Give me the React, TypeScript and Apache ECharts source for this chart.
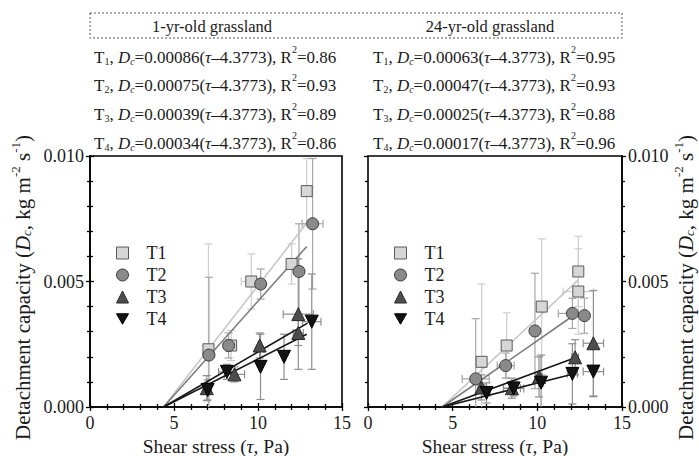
import React, { useEffect, useRef } from "react";
import * as echarts from "echarts";

// ---------- data ----------
const GROUPS = ["T1", "T2", "T3", "T4"];
const TAU_C = 4.3773;
const X_MIN = 0;
const X_MAX = 15;
const X_INTERVAL = 5;
const Y_MIN = 0;
const Y_MAX = 0.01;
const Y_INTERVAL = 0.005;

const PANEL_TITLES = ["1-yr-old grassland", "24-yr-old grassland"];

// 1-yr-old grassland
const A_T1_X = [7.05, 8.4, 9.6, 12.0, 12.9];
const A_T1_Y = [0.0023, 0.00245, 0.005, 0.0057, 0.0086];
const A_T1_XERR = [0.15, 0.3, 0.6, 0.2, 0.15];
const A_T1_YERR = [0.0042, 0.0006, 0.0011, 0.0008, 0.0013];

const A_T2_X = [7.08, 8.25, 10.16, 12.44, 13.25];
const A_T2_Y = [0.00207, 0.00245, 0.0049, 0.0054, 0.0073];
const A_T2_XERR = [0.15, 0.3, 0.1, 0.1, 0.62];
const A_T2_YERR = [0.0031, 0.0005, 0.0006, 0.0019, 0.0026];

const A_T3_X = [6.95, 8.6, 10.1, 12.4, 12.4];
const A_T3_Y = [0.00075, 0.0013, 0.00245, 0.0037, 0.00295];
const A_T3_XERR = [0.2, 0.6, 0.1, 0.9, 0.3];
const A_T3_YERR = [0.0005, 0.0003, 0.0005, 0.0022, 0.0005];

const A_T4_X = [7.0, 8.15, 10.15, 11.55, 13.2];
const A_T4_Y = [0.00068, 0.0014, 0.0016, 0.002, 0.0034];
const A_T4_XERR = [0.2, 0.5, 0.1, 0.1, 0.55];
const A_T4_YERR = [0.0004, 0.0003, 0.0013, 0.0009, 0.0019];

const A_SLOPE = [0.00086, 0.00075, 0.00039, 0.00034];
const A_R2 = ["0.86", "0.93", "0.89", "0.86"];
const A_FIT_END = [12.9, 12.9, 12.95, 12.9];

// 24-yr-old grassland
const B_T1_X = [6.71, 8.19, 10.26, 12.42, 12.42];
const B_T1_Y = [0.0018, 0.00245, 0.004, 0.0054, 0.0046];
const B_T1_XERR = [0.15, 0.2, 0.15, 0.1, 0.9];
const B_T1_YERR = [0.0031, 0.0013, 0.0027, 0.0014, 0.0017];

const B_T2_X = [6.36, 8.13, 9.86, 12.07, 12.78];
const B_T2_Y = [0.00112, 0.00165, 0.00303, 0.00373, 0.00364];
const B_T2_XERR = [0.8, 0.5, 0.1, 0.83, 0.2];
const B_T2_YERR = [0.0024, 0.0005, 0.0023, 0.0006, 0.0007];

const B_T3_X = [6.7, 8.5, 10.1, 12.23, 13.31];
const B_T3_Y = [0.00078, 0.00075, 0.0012, 0.00198, 0.00254];
const B_T3_XERR = [0.2, 0.5, 0.2, 0.2, 0.6];
const B_T3_YERR = [0.0005, 0.0004, 0.0008, 0.0007, 0.0021];

const B_T4_X = [7.0, 8.6, 10.22, 12.07, 13.31];
const B_T4_Y = [0.00056, 0.00074, 0.00097, 0.00132, 0.00141];
const B_T4_XERR = [0.2, 0.6, 0.15, 0.3, 0.6];
const B_T4_YERR = [0.0004, 0.0003, 0.0011, 0.0012, 0.001];

const B_SLOPE = [0.00063, 0.00047, 0.00025, 0.00017];
const B_R2 = ["0.95", "0.93", "0.88", "0.96"];
const B_FIT_END = [12.42, 12.07, 12.23, 12.07];

// ---------- styles ----------
const FAMILY = "Liberation Serif, Times New Roman, serif";
const INK = "#1a1a1a";
const MARK_FILL = ["#d6d6d6", "#8a8a8a", "#4e4e4e", "#131313"];
const MARK_BORDER = ["#5a5a5a", "#3c3c3c", "#262626", "#000000"];
const LINE_COLOR = ["#c6c6c6", "#7c7c7c", "#151515", "#151515"];
const ERR_COLOR = ["#cdcdcd", "#a6a6a6", "#8e8e8e", "#8e8e8e"];
const SYMBOLS = ["rect", "circle", "triangle", "path://M0,0 L10,0 L5,8.7 Z"];
const SYMBOL_SIZE = [11, 12, 13, 13];

const PANELS = [
  {
    xs: [A_T1_X, A_T2_X, A_T3_X, A_T4_X],
    ys: [A_T1_Y, A_T2_Y, A_T3_Y, A_T4_Y],
    xe: [A_T1_XERR, A_T2_XERR, A_T3_XERR, A_T4_XERR],
    ye: [A_T1_YERR, A_T2_YERR, A_T3_YERR, A_T4_YERR],
    slope: A_SLOPE,
    r2: A_R2,
    fitEnd: A_FIT_END,
  },
  {
    xs: [B_T1_X, B_T2_X, B_T3_X, B_T4_X],
    ys: [B_T1_Y, B_T2_Y, B_T3_Y, B_T4_Y],
    xe: [B_T1_XERR, B_T2_XERR, B_T3_XERR, B_T4_XERR],
    ye: [B_T1_YERR, B_T2_YERR, B_T3_YERR, B_T4_YERR],
    slope: B_SLOPE,
    r2: B_R2,
    fitEnd: B_FIT_END,
  },
];

// layout
const GRID_LEFT = [90, 368];
const GRID_WIDTH = [252, 254];
const GRID_TOP = 156;
const GRID_HEIGHT = 251;
const EQ_X = [94, 373];
const EQ_Y = [55, 83, 112, 141];
const HEADER_X = [212, 490];
const HEADER_Y = 26;
const EQ_SIZE = 17;

// rich styles for axis names (ECharts label style)
function axisRich(size: number, lhFactor: number) {
  const lh = Math.round(size * lhFactor);
  const sub = Math.round(size * 0.6);
  const base = { fontFamily: FAMILY, color: INK };
  return {
    a: { ...base, fontSize: size, lineHeight: lh, verticalAlign: "bottom" },
    i: { ...base, fontSize: size, fontStyle: "italic", lineHeight: lh, verticalAlign: "bottom" },
    sb: { ...base, fontSize: sub, lineHeight: sub, verticalAlign: "bottom" },
    sbi: { ...base, fontSize: sub, fontStyle: "italic", lineHeight: sub, verticalAlign: "bottom" },
    sp: { ...base, fontSize: sub, lineHeight: sub, verticalAlign: "top" },
  };
}

// rich styles for graphic texts (zrender style, font shorthand)
function graphicRich(size: number) {
  const lh = Math.round(size * 1.3);
  const sub = Math.round(size * 0.6);
  return {
    a: { font: `${size}px ${FAMILY}`, fill: INK, lineHeight: lh, verticalAlign: "bottom" },
    i: { font: `italic ${size}px ${FAMILY}`, fill: INK, lineHeight: lh, verticalAlign: "bottom" },
    sb: { font: `${sub}px ${FAMILY}`, fill: INK, lineHeight: sub, verticalAlign: "bottom" },
    sbi: { font: `italic ${sub}px ${FAMILY}`, fill: INK, lineHeight: sub, verticalAlign: "bottom" },
    sp: { font: `${sub}px ${FAMILY}`, fill: INK, lineHeight: sub, verticalAlign: "top" },
  };
}

function errRender(color: string) {
  return (params: any, api: any) => {
    const x = api.value(0);
    const y = api.value(1);
    const xe = api.value(2);
    const ye = api.value(3);
    const cs = params.coordSys;
    const yTopLim = cs.y;
    const yBotLim = cs.y + cs.height;
    const c = api.coord([x, y]);
    const top = api.coord([x, y + ye])[1];
    const bot = api.coord([x, y - ye])[1];
    const lft = api.coord([x - xe, y])[0];
    const rgt = api.coord([x + xe, y])[0];
    const cap = 4;
    const children: any[] = [];
    const seg = (x1: number, y1: number, x2: number, y2: number) =>
      children.push({
        type: "line",
        shape: { x1, y1, x2, y2 },
        style: { stroke: color, lineWidth: 1.2, fill: null },
      });
    seg(c[0], Math.max(top, yTopLim), c[0], Math.min(bot, yBotLim));
    if (top >= yTopLim) seg(c[0] - cap, top, c[0] + cap, top);
    if (bot <= yBotLim) seg(c[0] - cap, bot, c[0] + cap, bot);
    if (xe > 0) {
      seg(lft, c[1], rgt, c[1]);
      seg(lft, c[1] - cap, lft, c[1] + cap);
      seg(rgt, c[1] - cap, rgt, c[1] + cap);
    }
    return { type: "group", children };
  };
}

function buildOption() {
  const axisName = "{a|Detachment capacity (}{i|D}{sbi|c}{a|, kg m}{sp|-2}{a| s}{sp|-1}{a|)}";
  const xName = "{a|Shear stress (}{i|τ}{a|, Pa)}";
  const tickLine = { color: "#000", width: 1.3 };

  const xAxis: any[] = [];
  const yAxis: any[] = [];
  for (let p = 0; p < 2; p++) {
    xAxis.push({
      gridIndex: p,
      type: "value",
      min: X_MIN,
      max: X_MAX,
      interval: X_INTERVAL,
      position: "bottom",
      axisLine: { show: true, onZero: false, lineStyle: { color: "#000", width: 1.6 } },
      axisTick: { show: true, inside: false, length: 4, lineStyle: tickLine },
      minorTick: { show: true, splitNumber: 5, length: 3, lineStyle: tickLine },
      axisLabel: { fontFamily: FAMILY, fontSize: 18, color: INK, margin: 7 },
      splitLine: { show: false },
      name: xName,
      nameLocation: "middle",
      nameGap: 24,
      nameTextStyle: { rich: axisRich(19.5, 1.0) },
    });
    xAxis.push({
      gridIndex: p,
      type: "value",
      min: X_MIN,
      max: X_MAX,
      interval: X_INTERVAL,
      position: "bottom",
      axisLine: { show: false },
      axisTick: { show: true, inside: true, length: 4, lineStyle: tickLine },
      minorTick: { show: true, splitNumber: 5, length: 3, lineStyle: tickLine },
      axisLabel: { show: false },
      splitLine: { show: false },
    });
    const pos = p === 0 ? "left" : "right";
    yAxis.push({
      gridIndex: p,
      type: "value",
      min: Y_MIN,
      max: Y_MAX,
      interval: Y_INTERVAL,
      position: pos,
      axisLine: { show: true, onZero: false, lineStyle: { color: "#000", width: 1.6 } },
      axisTick: { show: true, inside: false, length: 4, lineStyle: tickLine },
      minorTick: { show: true, splitNumber: 5, length: 3, lineStyle: tickLine },
      axisLabel: {
        fontFamily: FAMILY,
        fontSize: 18,
        color: INK,
        margin: 6,
        formatter: (v: number) => v.toFixed(3),
      },
      splitLine: { show: false },
      name: axisName,
      nameLocation: "middle",
      nameRotate: 90,
      nameGap: p === 0 ? 57 : 50,
      nameTextStyle: { rich: axisRich(21, 1.15), padding: [0, 12, 0, 0] },
    });
    yAxis.push({
      gridIndex: p,
      type: "value",
      min: Y_MIN,
      max: Y_MAX,
      interval: Y_INTERVAL,
      position: pos,
      axisLine: { show: false },
      axisTick: { show: true, inside: true, length: 4, lineStyle: tickLine },
      minorTick: { show: true, splitNumber: 5, length: 3, lineStyle: tickLine },
      axisLabel: { show: false },
      splitLine: { show: false },
    });
  }

  const series: any[] = [];
  PANELS.forEach((panel, p) => {
    const xi = p * 2;
    GROUPS.forEach((g, k) => {
      const xs = panel.xs[k];
      const ys = panel.ys[k];
      series.push({
        type: "custom",
        name: `err-${p}-${g}`,
        xAxisIndex: xi,
        yAxisIndex: xi,
        silent: true,
        z: 1,
        renderItem: errRender(ERR_COLOR[k]),
        data: xs.map((x, j) => [x, ys[j], panel.xe[k][j], panel.ye[k][j]]),
      });
      const end = panel.fitEnd[k];
      series.push({
        type: "line",
        name: `fit-${p}-${g}`,
        xAxisIndex: xi,
        yAxisIndex: xi,
        silent: true,
        z: 2,
        showSymbol: false,
        symbol: "none",
        lineStyle: { color: LINE_COLOR[k], width: 1.6 },
        data: [
          [TAU_C, 0],
          [end, panel.slope[k] * (end - TAU_C)],
        ],
      });
      series.push({
        type: "scatter",
        name: g,
        xAxisIndex: xi,
        yAxisIndex: xi,
        z: 3,
        symbol: SYMBOLS[k],
        symbolSize: SYMBOL_SIZE[k],
        itemStyle: {
          color: MARK_FILL[k],
          borderColor: MARK_BORDER[k],
          borderWidth: 1,
          opacity: 1,
        },
        data: xs.map((x, j) => [x, ys[j]]),
      });
    });
  });

  const eqRich = graphicRich(EQ_SIZE);
  const graphic: any[] = [
    {
      type: "rect",
      shape: { x: GRID_LEFT[0], y: 13, width: GRID_LEFT[1] + GRID_WIDTH[1] - GRID_LEFT[0], height: 25 },
      style: { fill: "none", stroke: "#555", lineWidth: 1, lineDash: [2, 2] },
    },
  ];
  PANEL_TITLES.forEach((t, p) => {
    graphic.push({
      type: "text",
      x: HEADER_X[p],
      y: HEADER_Y,
      style: {
        text: t,
        font: `16.5px ${FAMILY}`,
        fill: INK,
        align: "center",
        verticalAlign: "middle",
      },
    });
    const panel = PANELS[p];
    GROUPS.forEach((g, k) => {
      const txt =
        `{a|T}{sb|${k + 1}}{a|, }{i|D}{sbi|c}{a|=${panel.slope[k].toFixed(5)}(}` +
        `{i|τ}{a|–${TAU_C}), R}{sp|2}{a|=${panel.r2[k]}}`;
      graphic.push({
        type: "text",
        x: EQ_X[p],
        y: EQ_Y[k],
        style: {
          text: txt,
          rich: eqRich,
          font: `${EQ_SIZE}px ${FAMILY}`,
          fill: INK,
          align: "left",
          verticalAlign: "middle",
        },
      });
    });
  });

  const legendBase = {
    data: GROUPS,
    orient: "vertical",
    top: 239,
    itemWidth: 12,
    itemHeight: 12,
    itemGap: 4,
    selectedMode: false,
    itemStyle: { borderWidth: 1 },
    textStyle: { fontFamily: FAMILY, fontSize: 18, color: INK, lineHeight: 17, padding: [0, 0, 0, 13] },
  };

  return {
    animation: false,
    backgroundColor: "#fff",
    grid: [0, 1].map((p) => ({
      left: GRID_LEFT[p],
      top: GRID_TOP,
      width: GRID_WIDTH[p],
      height: GRID_HEIGHT,
      show: true,
      borderColor: "#000",
      borderWidth: 1.6,
      backgroundColor: "transparent",
      containLabel: false,
      outerBoundsMode: "none",
    })),
    legend: [
      { ...legendBase, left: GRID_LEFT[0] + 21 },
      { ...legendBase, left: GRID_LEFT[1] + 21 },
    ],
    xAxis,
    yAxis,
    series,
    graphic,
  };
}

export default function App() {
  const ref = useRef<HTMLDivElement>(null);
  useEffect(() => {
    document.body.style.margin = "0";
    if (!ref.current) return;
    const chart = echarts.init(ref.current, null, { renderer: "svg" });
    chart.setOption(buildOption() as any);
    return () => chart.dispose();
  }, []);
  return <div ref={ref} style={{ width: 699, height: 456 }} />;
}
